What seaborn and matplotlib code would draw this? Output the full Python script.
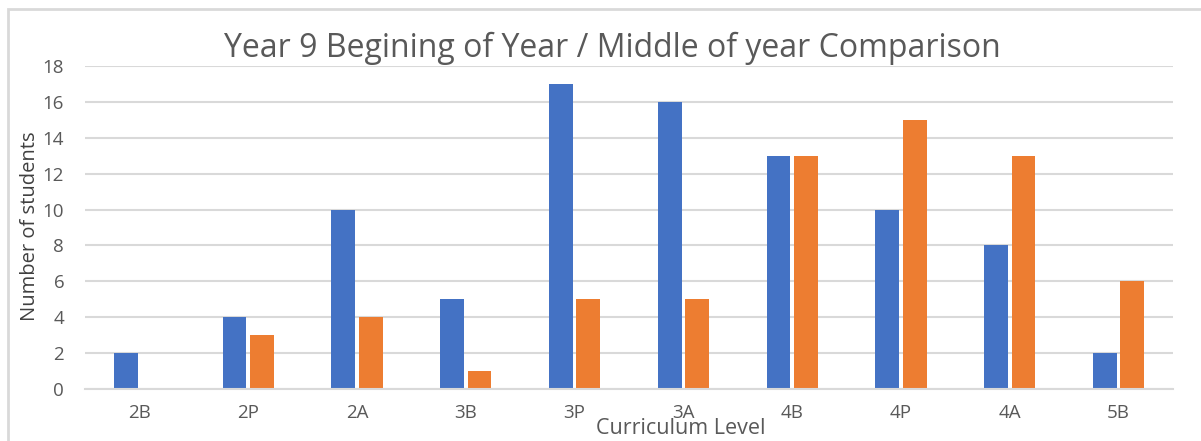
import matplotlib
matplotlib.use("Agg")
import matplotlib.pyplot as plt
import seaborn as sns
import pandas as pd
from matplotlib.patches import Rectangle

levels = ["2B", "2P", "2A", "3B", "3P", "3A", "4B", "4P", "4A", "5B"]
beginning = [2, 4, 10, 5, 17, 16, 13, 10, 8, 2]
middle = [0, 3, 4, 1, 5, 5, 13, 15, 13, 6]
series_names = ["Beginning of Year", "Middle of Year"]
yticks = [0, 2, 4, 6, 8, 10, 12, 14, 16, 18]

df = pd.DataFrame({
    "level": levels * 2,
    "count": beginning + middle,
    "series": [series_names[0]] * len(levels) + [series_names[1]] * len(levels),
})

sns.set_theme(style="white")
plt.rcParams["font.family"] = ["Open Sans", "DejaVu Sans"]

W, H = 1201, 441
fig = plt.figure(figsize=(W / 100, H / 100), dpi=100)
left, right, top, bottom = 85, 1173, 66, 389
ax = fig.add_axes([left / W, 1 - bottom / H, (right - left) / W, (bottom - top) / H])

sns.barplot(data=df, x="level", y="count", hue="series", order=levels,
            hue_order=series_names, palette=["#4472C4", "#ED7D31"],
            width=0.505, gap=0.13, ax=ax, legend=False, saturation=1,
            linewidth=0)

ax.set_ylim(0, 18)
ax.set_xlim(-0.5, len(levels) - 0.5)
ax.set_yticks(yticks)
ax.yaxis.grid(True, color="#D9D9D9", linewidth=1.5)
ax.set_axisbelow(True)
for s in ["top", "right", "left"]:
    ax.spines[s].set_visible(False)
ax.spines["bottom"].set_color("#D9D9D9")
ax.spines["bottom"].set_linewidth(1.5)
ax.tick_params(axis="both", length=0, labelsize=13.5, colors="#595959")
ax.tick_params(axis="y", pad=15)
ax.tick_params(axis="x", pad=10.5)
ax.set_xlabel("")
ax.set_ylabel("")

fig.text(681 / W, 1 - 429 / H, "Curriculum Level", ha="center", va="center",
         fontsize=15.5, color="#595959")
fig.text(30 / W, 1 - 226 / H, "Number of students", ha="center", va="center",
         rotation=90, fontsize=14.5, color="#404040")
fig.text(612 / W, 1 - 48 / H, "Year 9 Begining of Year / Middle of year Comparison",
         ha="center", va="center", fontsize=23, color="#595959")

fig.patches.append(Rectangle((8 / W, -0.05), 1.1, 1 - 9 / H + 0.05,
                             transform=fig.transFigure, fill=False,
                             edgecolor="#D9D9D9", linewidth=2))

fig.savefig("out.png", dpi=100)
